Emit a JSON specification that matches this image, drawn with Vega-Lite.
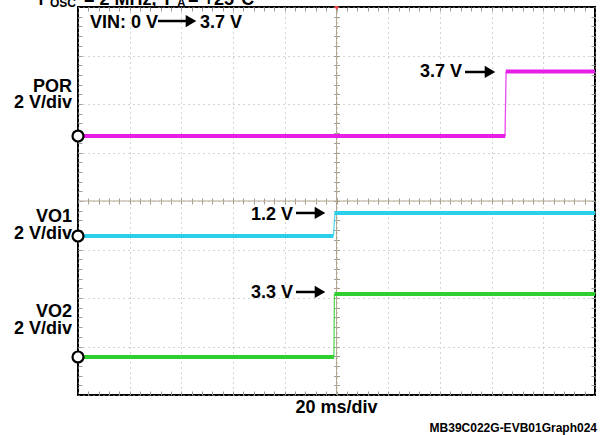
{
  "$schema": "https://vega.github.io/schema/vega-lite/v6.json",
  "width": 517,
  "height": 388,
  "autosize": {"type": "none"},
  "padding": {"left": 78, "top": 7, "right": 10, "bottom": 40},
  "background": "white",
  "config": {
    "view": {"stroke": "black", "strokeWidth": 2},
    "text": {"font": "Liberation Sans", "fontWeight": "bold", "fontSize": 18, "color": "black", "baseline": "alphabetic"}
  },
  "datasets": {
    "traces": [
      {"s": "POR", "part": "level", "seg": "POR-a", "x": 0, "y": 5.34},
      {"s": "POR", "part": "level", "seg": "POR-a", "x": 8.265, "y": 5.34},
      {"s": "POR", "part": "level", "seg": "POR-b", "x": 8.275, "y": 6.67},
      {"s": "POR", "part": "level", "seg": "POR-b", "x": 10, "y": 6.67},
      {"s": "POR", "part": "edge", "seg": "POR-e", "x": 8.26, "y": 5.34},
      {"s": "POR", "part": "edge", "seg": "POR-e", "x": 8.28, "y": 6.67},
      {"s": "VO1", "part": "level", "seg": "VO1-a", "x": 0, "y": 3.278},
      {"s": "VO1", "part": "level", "seg": "VO1-a", "x": 4.94, "y": 3.278},
      {"s": "VO1", "part": "level", "seg": "VO1-b", "x": 4.965, "y": 3.753},
      {"s": "VO1", "part": "level", "seg": "VO1-b", "x": 10, "y": 3.753},
      {"s": "VO1", "part": "edge", "seg": "VO1-e", "x": 4.94, "y": 3.278},
      {"s": "VO1", "part": "edge", "seg": "VO1-e", "x": 4.97, "y": 3.753},
      {"s": "VO2", "part": "level", "seg": "VO2-a", "x": 0, "y": 0.784},
      {"s": "VO2", "part": "level", "seg": "VO2-a", "x": 4.95, "y": 0.784},
      {"s": "VO2", "part": "level", "seg": "VO2-b", "x": 4.96, "y": 2.082},
      {"s": "VO2", "part": "level", "seg": "VO2-b", "x": 10, "y": 2.082},
      {"s": "VO2", "part": "edge", "seg": "VO2-e", "x": 4.95, "y": 0.784},
      {"s": "VO2", "part": "edge", "seg": "VO2-e", "x": 4.96, "y": 2.082}
    ],
    "markers": [
      {"s": "POR", "x": 0, "y": 5.34},
      {"s": "VO1", "x": 0, "y": 3.278},
      {"s": "VO2", "x": 0, "y": 0.784}
    ],
    "center": [{"x": 5, "y": 4}],
    "trigger": [{"x": 5, "y": 7.98}],
    "shafts": [
      {"x": 1.547, "x2": 2.128, "y": 7.711},
      {"x": 7.485, "x2": 7.93, "y": 6.66},
      {"x": 4.217, "x2": 4.642, "y": 3.753},
      {"x": 4.217, "x2": 4.642, "y": 2.124}
    ],
    "heads": [
      {"x": 2.186, "y": 7.711},
      {"x": 7.969, "y": 6.66},
      {"x": 4.681, "y": 3.753},
      {"x": 4.681, "y": 2.124}
    ],
    "labels": [
      {"kind": "left", "text": "VIN: 0 V", "x": 0.232, "y": 7.567},
      {"kind": "left", "text": "3.7 V", "x": 2.36, "y": 7.567},
      {"kind": "left", "text": "3.7 V", "x": 6.615, "y": 6.557},
      {"kind": "left", "text": "1.2 V", "x": 3.346, "y": 3.608},
      {"kind": "left", "text": "3.3 V", "x": 3.346, "y": 2.0},
      {"kind": "right", "text": "POR", "x": -0.116, "y": 6.247},
      {"kind": "right", "text": "2 V/div", "x": -0.116, "y": 5.918},
      {"kind": "right", "text": "VO1", "x": -0.116, "y": 3.567},
      {"kind": "right", "text": "2 V/div", "x": -0.116, "y": 3.216},
      {"kind": "right", "text": "VO2", "x": -0.116, "y": 1.608},
      {"kind": "right", "text": "2 V/div", "x": -0.116, "y": 1.258},
      {"kind": "center", "text": "20 ms/div", "x": 5.0, "y": -0.371},
      {"kind": "note", "text": "MB39C022G-EVB01Graph024", "x": 10.039, "y": -0.763},
      {"kind": "left", "text": "f", "x": -0.774, "y": 8.041},
      {"kind": "sub", "text": "OSC", "x": -0.542, "y": 8.0},
      {"kind": "left", "text": "= 2 MHz, T", "x": 0.116, "y": 8.041},
      {"kind": "sub", "text": "A", "x": 1.915, "y": 8.0},
      {"kind": "left", "text": " = +25°C", "x": 2.128, "y": 8.041}
    ]
  },
  "layer": [
    {
      "data": {"name": "center"},
      "mark": {"type": "point", "opacity": 0},
      "encoding": {
        "x": {"field": "x", "type": "quantitative", "scale": {"domain": [0, 10], "nice": false, "zero": false},
          "axis": {"orient": "bottom", "values": [0,1,2,3,4,5,6,7,8,9,10], "grid": true, "gridDash": [1, 4], "gridColor": "#a8a8a8", "gridWidth": 1, "ticks": false, "labels": false, "domain": false, "title": null}},
        "y": {"field": "y", "type": "quantitative", "scale": {"domain": [0, 8], "nice": false, "zero": false},
          "axis": {"orient": "left", "values": [0,1,2,3,4,5,6,7,8], "grid": true, "gridDash": [1, 4], "gridColor": "#a8a8a8", "gridWidth": 1, "ticks": false, "labels": false, "domain": false, "title": null}}
      }
    },
    {
      "data": {"name": "center"},
      "mark": {"type": "point", "opacity": 0},
      "encoding": {
        "x": {"field": "x", "type": "quantitative", "scale": {"domain": [0, 10], "nice": false, "zero": false},
          "axis": {"orient": "bottom", "values": [0.2,0.4,0.6,0.8,1,1.2,1.4,1.6,1.8,2,2.2,2.4,2.6,2.8,3,3.2,3.4,3.6,3.8,4,4.2,4.4,4.6,4.8,5,5.2,5.4,5.6,5.8,6,6.2,6.4,6.6,6.8,7,7.2,7.4,7.6,7.8,8,8.2,8.4,8.6,8.8,9,9.2,9.4,9.6,9.8], "tickSize": -4, "tickColor": "#9a9a9a", "tickWidth": 1, "grid": false, "labels": false, "domain": false, "title": null}},
        "y": {"field": "y", "type": "quantitative", "scale": {"domain": [0, 8], "nice": false, "zero": false},
          "axis": {"orient": "left", "values": [0.2,0.4,0.6,0.8,1,1.2,1.4,1.6,1.8,2,2.2,2.4,2.6,2.8,3,3.2,3.4,3.6,3.8,4,4.2,4.4,4.6,4.8,5,5.2,5.4,5.6,5.8,6,6.2,6.4,6.6,6.8,7,7.2,7.4,7.6,7.8], "tickSize": -4, "tickColor": "#9a9a9a", "tickWidth": 1, "grid": false, "labels": false, "domain": false, "title": null}}
      }
    },
    {
      "data": {"name": "center"},
      "mark": {"type": "point", "opacity": 0},
      "encoding": {
        "x": {"field": "x", "type": "quantitative", "scale": {"domain": [0, 10], "nice": false, "zero": false},
          "axis": {"orient": "top", "values": [0.2,0.4,0.6,0.8,1,1.2,1.4,1.6,1.8,2,2.2,2.4,2.6,2.8,3,3.2,3.4,3.6,3.8,4,4.2,4.4,4.6,4.8,5,5.2,5.4,5.6,5.8,6,6.2,6.4,6.6,6.8,7,7.2,7.4,7.6,7.8,8,8.2,8.4,8.6,8.8,9,9.2,9.4,9.6,9.8], "tickSize": -4, "tickColor": "#9a9a9a", "tickWidth": 1, "grid": false, "labels": false, "domain": false, "title": null}},
        "y": {"field": "y", "type": "quantitative", "scale": {"domain": [0, 8], "nice": false, "zero": false},
          "axis": {"orient": "right", "values": [0.2,0.4,0.6,0.8,1,1.2,1.4,1.6,1.8,2,2.2,2.4,2.6,2.8,3,3.2,3.4,3.6,3.8,4,4.2,4.4,4.6,4.8,5,5.2,5.4,5.6,5.8,6,6.2,6.4,6.6,6.8,7,7.2,7.4,7.6,7.8], "tickSize": -4, "tickColor": "#9a9a9a", "tickWidth": 1, "grid": false, "labels": false, "domain": false, "title": null}}
      }
    },
    {
      "data": {"name": "center"},
      "mark": {"type": "point", "opacity": 0},
      "encoding": {
        "x": {"field": "x", "type": "quantitative", "scale": {"domain": [0, 10], "nice": false, "zero": false},
          "axis": {"orient": "bottom", "offset": -194, "values": [0.2,0.4,0.6,0.8,1,1.2,1.4,1.6,1.8,2,2.2,2.4,2.6,2.8,3,3.2,3.4,3.6,3.8,4,4.2,4.4,4.6,4.8,5,5.2,5.4,5.6,5.8,6,6.2,6.4,6.6,6.8,7,7.2,7.4,7.6,7.8,8,8.2,8.4,8.6,8.8,9,9.2,9.4,9.6,9.8], "tickSize": 3, "tickColor": "#a89c8a", "tickWidth": 1, "grid": false, "labels": false, "domain": false, "title": null}},
        "y": {"field": "y", "type": "quantitative", "scale": {"domain": [0, 8], "nice": false, "zero": false},
          "axis": {"orient": "left", "offset": -258.5, "values": [0.2,0.4,0.6,0.8,1,1.2,1.4,1.6,1.8,2,2.2,2.4,2.6,2.8,3,3.2,3.4,3.6,3.8,4,4.2,4.4,4.6,4.8,5,5.2,5.4,5.6,5.8,6,6.2,6.4,6.6,6.8,7,7.2,7.4,7.6,7.8], "tickSize": 3, "tickColor": "#a89c8a", "tickWidth": 1, "grid": false, "labels": false, "domain": false, "title": null}}
      }
    },
    {
      "data": {"name": "center"},
      "mark": {"type": "point", "opacity": 0},
      "encoding": {
        "x": {"field": "x", "type": "quantitative", "scale": {"domain": [0, 10], "nice": false, "zero": false},
          "axis": {"orient": "top", "offset": -194, "values": [0.2,0.4,0.6,0.8,1,1.2,1.4,1.6,1.8,2,2.2,2.4,2.6,2.8,3,3.2,3.4,3.6,3.8,4,4.2,4.4,4.6,4.8,5,5.2,5.4,5.6,5.8,6,6.2,6.4,6.6,6.8,7,7.2,7.4,7.6,7.8,8,8.2,8.4,8.6,8.8,9,9.2,9.4,9.6,9.8], "tickSize": 3, "tickColor": "#a89c8a", "tickWidth": 1, "grid": false, "labels": false, "domain": false, "title": null}},
        "y": {"field": "y", "type": "quantitative", "scale": {"domain": [0, 8], "nice": false, "zero": false},
          "axis": {"orient": "right", "offset": -258.5, "values": [0.2,0.4,0.6,0.8,1,1.2,1.4,1.6,1.8,2,2.2,2.4,2.6,2.8,3,3.2,3.4,3.6,3.8,4,4.2,4.4,4.6,4.8,5,5.2,5.4,5.6,5.8,6,6.2,6.4,6.6,6.8,7,7.2,7.4,7.6,7.8], "tickSize": 3, "tickColor": "#a89c8a", "tickWidth": 1, "grid": false, "labels": false, "domain": false, "title": null}}
      }
    },
    {
      "data": {"name": "center"},
      "mark": {"type": "rule", "color": "#b3a793", "strokeWidth": 1},
      "encoding": {
        "x": {"field": "x", "type": "quantitative", "scale": {"domain": [0, 10], "nice": false, "zero": false}, "axis": null}
      }
    },
    {
      "data": {"name": "center"},
      "mark": {"type": "rule", "color": "#b3a793", "strokeWidth": 1},
      "encoding": {
        "y": {"field": "y", "type": "quantitative", "scale": {"domain": [0, 8], "nice": false, "zero": false}, "axis": null}
      }
    },
    {
      "data": {"name": "traces"},
      "transform": [{"filter": "datum.part === 'edge'"}],
      "mark": {"type": "line", "strokeWidth": 1.3, "opacity": 0.8},
      "encoding": {
        "x": {"field": "x", "type": "quantitative", "scale": {"domain": [0, 10], "nice": false, "zero": false}, "axis": null},
        "y": {"field": "y", "type": "quantitative", "scale": {"domain": [0, 8], "nice": false, "zero": false}, "axis": null},
        "detail": {"field": "seg"},
        "color": {"field": "s", "type": "nominal", "scale": {"domain": ["POR", "VO1", "VO2"], "range": ["#e61ee6", "#2ccfea", "#2fcf2f"]}, "legend": null}
      }
    },
    {
      "data": {"name": "traces"},
      "transform": [{"filter": "datum.part === 'level'"}],
      "mark": {"type": "line", "strokeWidth": 4, "strokeCap": "butt"},
      "encoding": {
        "x": {"field": "x", "type": "quantitative", "scale": {"domain": [0, 10], "nice": false, "zero": false}, "axis": null},
        "y": {"field": "y", "type": "quantitative", "scale": {"domain": [0, 8], "nice": false, "zero": false}, "axis": null},
        "detail": {"field": "seg"},
        "color": {"field": "s", "type": "nominal", "scale": {"domain": ["POR", "VO1", "VO2"], "range": ["#e61ee6", "#2ccfea", "#2fcf2f"]}, "legend": null}
      }
    },
    {
      "data": {"name": "markers"},
      "mark": {"type": "point", "shape": "circle", "size": 120, "filled": true, "fill": "white", "stroke": "black", "strokeWidth": 2.2, "opacity": 1},
      "encoding": {
        "x": {"field": "x", "type": "quantitative", "scale": {"domain": [0, 10], "nice": false, "zero": false}, "axis": null},
        "y": {"field": "y", "type": "quantitative", "scale": {"domain": [0, 8], "nice": false, "zero": false}, "axis": null}
      }
    },
    {
      "data": {"name": "trigger"},
      "mark": {"type": "point", "shape": "triangle-down", "size": 22, "filled": true, "color": "#ff4040", "opacity": 1},
      "encoding": {
        "x": {"field": "x", "type": "quantitative", "scale": {"domain": [0, 10], "nice": false, "zero": false}, "axis": null},
        "y": {"field": "y", "type": "quantitative", "scale": {"domain": [0, 8], "nice": false, "zero": false}, "axis": null}
      }
    },
    {
      "data": {"name": "shafts"},
      "mark": {"type": "rule", "color": "black", "strokeWidth": 2.5},
      "encoding": {
        "x": {"field": "x", "type": "quantitative", "scale": {"domain": [0, 10], "nice": false, "zero": false}, "axis": null},
        "x2": {"field": "x2"},
        "y": {"field": "y", "type": "quantitative", "scale": {"domain": [0, 8], "nice": false, "zero": false}, "axis": null}
      }
    },
    {
      "data": {"name": "heads"},
      "mark": {"type": "point", "shape": "triangle-right", "size": 150, "filled": true, "color": "black", "opacity": 1},
      "encoding": {
        "x": {"field": "x", "type": "quantitative", "scale": {"domain": [0, 10], "nice": false, "zero": false}, "axis": null},
        "y": {"field": "y", "type": "quantitative", "scale": {"domain": [0, 8], "nice": false, "zero": false}, "axis": null}
      }
    },
    {
      "data": {"name": "labels"},
      "transform": [{"filter": "datum.kind === 'left'"}],
      "mark": {"type": "text", "align": "left"},
      "encoding": {
        "x": {"field": "x", "type": "quantitative", "scale": {"domain": [0, 10], "nice": false, "zero": false}, "axis": null},
        "y": {"field": "y", "type": "quantitative", "scale": {"domain": [0, 8], "nice": false, "zero": false}, "axis": null},
        "text": {"field": "text"}
      }
    },
    {
      "data": {"name": "labels"},
      "transform": [{"filter": "datum.kind === 'sub'"}],
      "mark": {"type": "text", "align": "left", "fontSize": 12},
      "encoding": {
        "x": {"field": "x", "type": "quantitative", "scale": {"domain": [0, 10], "nice": false, "zero": false}, "axis": null},
        "y": {"field": "y", "type": "quantitative", "scale": {"domain": [0, 8], "nice": false, "zero": false}, "axis": null},
        "text": {"field": "text"}
      }
    },
    {
      "data": {"name": "labels"},
      "transform": [{"filter": "datum.kind === 'right'"}],
      "mark": {"type": "text", "align": "right"},
      "encoding": {
        "x": {"field": "x", "type": "quantitative", "scale": {"domain": [0, 10], "nice": false, "zero": false}, "axis": null},
        "y": {"field": "y", "type": "quantitative", "scale": {"domain": [0, 8], "nice": false, "zero": false}, "axis": null},
        "text": {"field": "text"}
      }
    },
    {
      "data": {"name": "labels"},
      "transform": [{"filter": "datum.kind === 'center'"}],
      "mark": {"type": "text", "align": "center"},
      "encoding": {
        "x": {"field": "x", "type": "quantitative", "scale": {"domain": [0, 10], "nice": false, "zero": false}, "axis": null},
        "y": {"field": "y", "type": "quantitative", "scale": {"domain": [0, 8], "nice": false, "zero": false}, "axis": null},
        "text": {"field": "text"}
      }
    },
    {
      "data": {"name": "labels"},
      "transform": [{"filter": "datum.kind === 'note'"}],
      "mark": {"type": "text", "align": "right", "fontSize": 12},
      "encoding": {
        "x": {"field": "x", "type": "quantitative", "scale": {"domain": [0, 10], "nice": false, "zero": false}, "axis": null},
        "y": {"field": "y", "type": "quantitative", "scale": {"domain": [0, 8], "nice": false, "zero": false}, "axis": null},
        "text": {"field": "text"}
      }
    }
  ],
  "resolve": {"axis": {"x": "independent", "y": "independent"}}
}
